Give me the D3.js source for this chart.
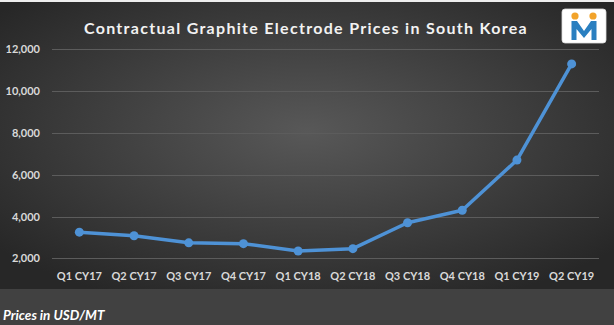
<!DOCTYPE html>
<html>
<head>
<meta charset="utf-8">
<script src="https://cdn.jsdelivr.net/npm/d3@7"></script>
<style>
html,body{margin:0;padding:0;background:#414141;}
svg{display:block;}
text{font-family:Lato,"Open Sans",sans-serif;}
</style>
</head>
<body>
<svg id="c" width="614" height="325"></svg>
<script>
const categories = ["Q1 CY17","Q2 CY17","Q3 CY17","Q4 CY17","Q1 CY18","Q2 CY18","Q3 CY18","Q4 CY18","Q1 CY19","Q2 CY19"];
const prices = [3250, 3080, 2740, 2700, 2350, 2460, 3700, 4300, 6700, 11300];
const yTicks = [2000, 4000, 6000, 8000, 10000, 12000];
const titleText = "Contractual Graphite Electrode Prices in South Korea";
const noteText = "Prices in USD/MT";

const W = 614, H = 325;
const svg = d3.select("#c");
const defs = svg.append("defs");
const rg = defs.append("radialGradient").attr("id","bg").attr("cx","50%").attr("cy","45%").attr("r","65%");
rg.append("stop").attr("offset","0%").attr("stop-color","#585858");
rg.append("stop").attr("offset","100%").attr("stop-color","#272727");

svg.append("rect").attr("x",0).attr("y",0).attr("width",W).attr("height",H).attr("fill","#414141");
svg.append("rect").attr("x",0).attr("y",2).attr("width",W).attr("height",287).attr("fill","url(#bg)");
svg.append("rect").attr("x",0).attr("y",0).attr("width",W).attr("height",2).attr("fill","#eeeeee");

const x = d3.scaleBand().domain(categories).range([52, 599]);
const y = d3.scaleLinear().domain([2000, 12000]).range([258.3, 49.3]);

svg.append("g").selectAll("line").data(yTicks).join("line")
  .attr("x1",52).attr("x2",599)
  .attr("y1",d=>Math.round(y(d))+0.5).attr("y2",d=>Math.round(y(d))+0.5)
  .attr("stroke","#5c5c5c").attr("stroke-width",1);

svg.append("g").selectAll("text").data(yTicks).join("text")
  .attr("x",40).attr("y",d=>y(d)+4)
  .attr("text-anchor","end").attr("fill","#d9d9d9")
  .attr("font-size",11).attr("font-weight","bold")
  .text(d=>d3.format(",")(d));

svg.append("g").selectAll("text").data(categories).join("text")
  .attr("x",d=>x(d)+x.bandwidth()/2).attr("y",280)
  .attr("text-anchor","middle").attr("fill","#d9d9d9")
  .attr("font-size",11).attr("font-weight","bold")
  .text(d=>d);

const pts = categories.map((c,i)=>({c, v:prices[i]}));
const line = d3.line().x(d=>x(d.c)+x.bandwidth()/2).y(d=>y(d.v));
svg.append("path").datum(pts).attr("d",line)
  .attr("fill","none").attr("stroke","#4e92d6").attr("stroke-width",3.5)
  .attr("stroke-linejoin","round").attr("stroke-linecap","round");
svg.append("g").selectAll("circle").data(pts).join("circle")
  .attr("cx",d=>x(d.c)+x.bandwidth()/2).attr("cy",d=>y(d.v))
  .attr("r",4.5).attr("fill","#4e92d6");

svg.append("text").attr("x",306).attr("y",34).attr("text-anchor","middle")
  .attr("fill","#f2f2f2").attr("font-size",16).attr("font-weight","bold")
  .attr("letter-spacing","1.3px").text(titleText);

svg.append("text").attr("x",3).attr("y",320)
  .attr("fill","#ffffff").attr("font-size",13.5).attr("font-weight","bold")
  .attr("font-style","italic").text(noteText);

const lg = svg.append("g");
lg.append("rect").attr("x",562).attr("y",9).attr("width",44).attr("height",34).attr("rx",3)
  .attr("fill","#ffffff").attr("stroke","#dddddd").attr("stroke-width",0.8);
lg.append("circle").attr("cx",575).attr("cy",16).attr("r",3.6).attr("fill","#f2a32a");
lg.append("circle").attr("cx",593).attr("cy",16).attr("r",3.6).attr("fill","#f2a32a");
lg.append("path").attr("d","M571.5,40 L571.5,21 L577,21 L584,31 L591,21 L596.5,21 L596.5,40 L591.5,40 L591.5,29 L584,38 L576.5,29 L576.5,40 Z")
  .attr("fill","#2a7fc0");
</script>
</body>
</html>
